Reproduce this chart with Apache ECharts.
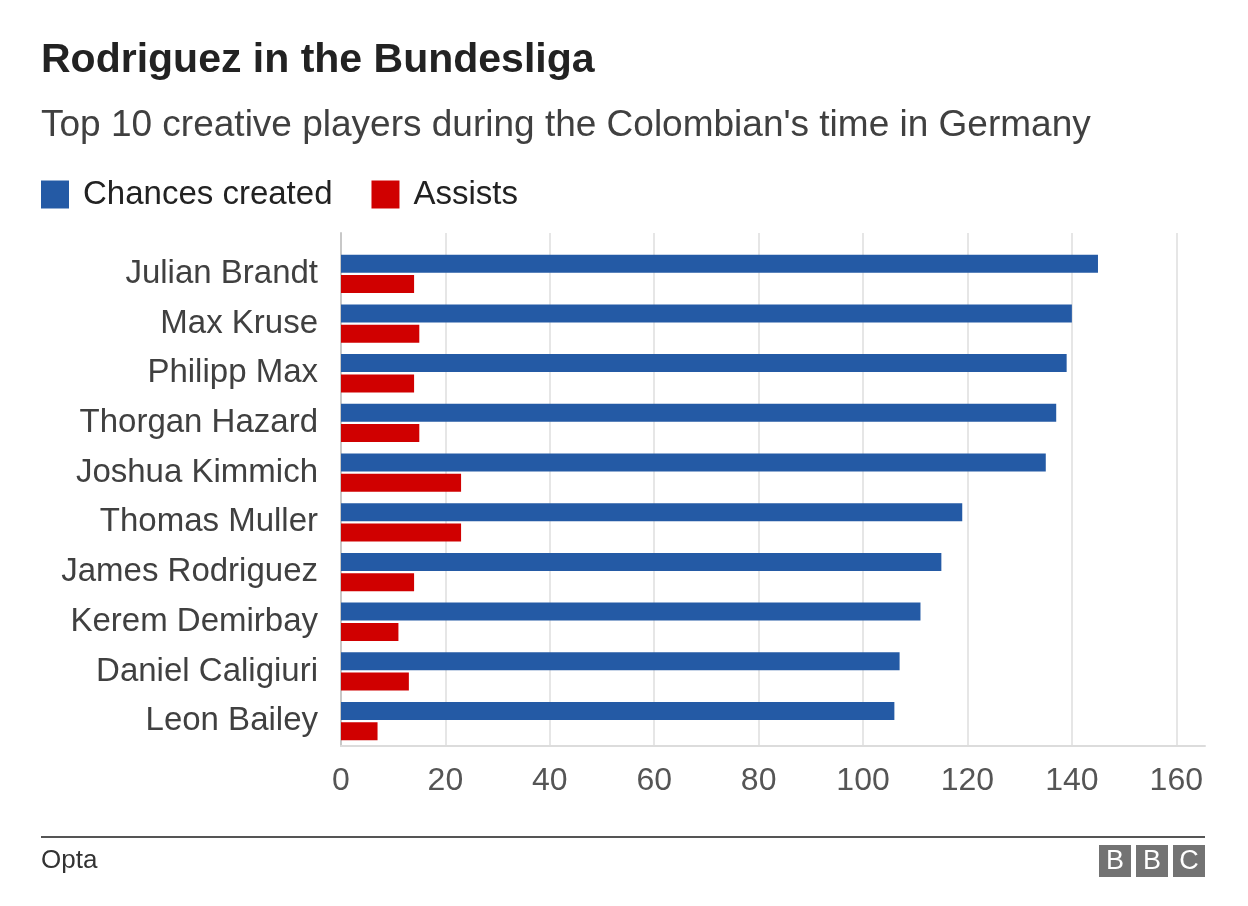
<!DOCTYPE html>
<html>
<head>
<meta charset="utf-8">
<script src="https://cdn.jsdelivr.net/npm/echarts@6/dist/echarts.min.js"></script>
<style>
html,body{margin:0;padding:0;background:#fff;}
#chart{width:1248px;height:906px;}
</style>
</head>
<body>
<div id="chart"></div>
<script>
const players = ['Julian Brandt','Max Kruse','Philipp Max','Thorgan Hazard','Joshua Kimmich','Thomas Muller','James Rodriguez','Kerem Demirbay','Daniel Caligiuri','Leon Bailey'];
const chancesCreated = [145,140,139,137,135,119,115,111,107,106];
const assists = [14,15,14,15,23,23,14,11,13,7];
const xTicks = [0,20,40,60,80,100,120,140,160];
const seriesNames = ['Chances created','Assists'];
const titleText = 'Rodriguez in the Bundesliga';
const subtitleText = "Top 10 creative players during the Colombian's time in Germany";
const sourceText = 'Opta';

const FONT = '"Liberation Sans", Arial, Helvetica, sans-serif';
const BLUE = '#245aa5';
const RED = '#d00000';
const XMAX = 165.5;

const chart = echarts.init(document.getElementById('chart'), null, {renderer:'canvas'});

const bbcLetters = ['B','B','C'];
const bbc = bbcLetters.map((ch,i)=>({
  type:'group', left:1099 + i*37, top:845,
  children:[
    {type:'rect', shape:{x:0,y:0,width:32,height:32}, style:{fill:'#737373'}},
    {type:'text', style:{text:ch, x:16, y:17, textAlign:'center', textVerticalAlign:'middle', font:'27px '+FONT, fill:'#fff'}}
  ]
}));

const option = {
  backgroundColor:'#fff',
  animation:false,
  title:[
    {text:titleText, left:36, top:35, textStyle:{fontFamily:FONT, fontSize:41, fontWeight:'bold', color:'#222'}},
    {text:subtitleText, left:36, top:102, textStyle:{fontFamily:FONT, fontSize:37, fontWeight:'normal', color:'#404040'}}
  ],
  legend:{
    data:seriesNames,
    left:36, top:173,
    icon:'rect',
    itemWidth:28, itemHeight:28, itemGap:39,
    textStyle:{fontFamily:FONT, fontSize:33, color:'#222', padding:[0,0,0,9]}
  },
  grid:[
    {left:341, right:43, top:249, bottom:160, containLabel:false},
    {left:341, right:43, top:233, bottom:160, containLabel:false}
  ],
  xAxis:[
    {gridIndex:0, type:'value', min:0, max:XMAX, interval:20,
     axisLine:{show:true, lineStyle:{color:'#dcdcdc', width:2}},
     axisTick:{show:false}, splitLine:{show:false},
     axisLabel:{margin:19, fontFamily:FONT, fontSize:32, color:'#555',
       formatter:v=> xTicks.indexOf(v) >= 0 ? String(v) : ''}},
    {gridIndex:1, type:'value', min:0, max:XMAX, interval:20,
     axisLine:{show:false}, axisTick:{show:false}, axisLabel:{show:false},
     splitLine:{show:true, lineStyle:{width:2, color:['rgba(0,0,0,0)','#e6e6e6','#e6e6e6','#e6e6e6','#e6e6e6','#e6e6e6','#e6e6e6','#e6e6e6','#e6e6e6','rgba(0,0,0,0)']}}}
  ],
  yAxis:[
    {gridIndex:0, type:'category', data:players, inverse:true,
     axisLine:{show:false}, axisTick:{show:false}, splitLine:{show:false},
     axisLabel:{margin:23, fontFamily:FONT, fontSize:33, color:'#404040'}},
    {gridIndex:1, type:'value', min:0, max:1,
     axisLine:{show:true, lineStyle:{color:'#c8c8c8', width:2}},
     axisTick:{show:false}, axisLabel:{show:false}, splitLine:{show:false}}
  ],
  series:[
    {name:seriesNames[0], type:'bar', xAxisIndex:0, yAxisIndex:0, data:chancesCreated,
     barWidth:18, barGap:'13%', itemStyle:{color:BLUE}, z:3},
    {name:seriesNames[1], type:'bar', xAxisIndex:0, yAxisIndex:0, data:assists,
     barWidth:18, barGap:'13%', itemStyle:{color:RED}, z:3}
  ],
  graphic:[
    {type:'line', shape:{x1:41, y1:837, x2:1205, y2:837}, style:{stroke:'#555', lineWidth:2}},
    {type:'text', left:41, top:848, style:{text:sourceText, font:'26px '+FONT, fill:'#333'}}
  ].concat(bbc)
};
chart.setOption(option);
</script>
</body>
</html>
